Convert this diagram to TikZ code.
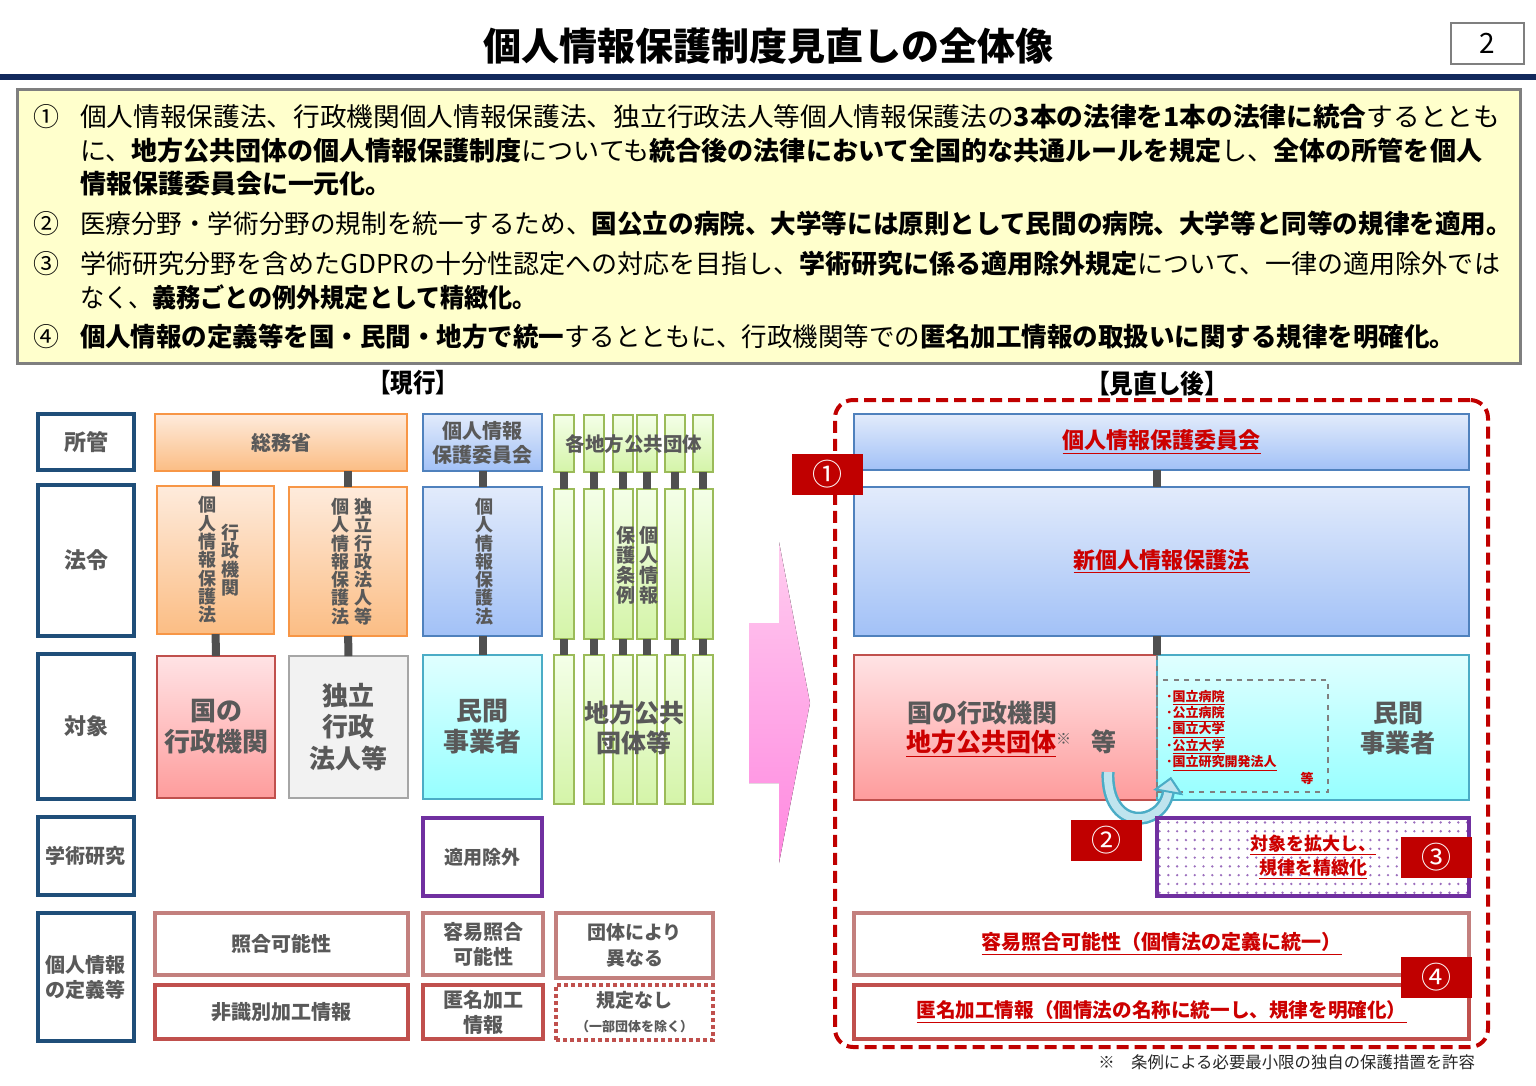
\documentclass[tikz,border=0pt]{standalone}
\usepackage{fontspec}
\setmainfont{Noto Sans CJK JP}
\usepackage{tikz}
\usetikzlibrary{arrows}
\usetikzlibrary{arrows.meta}
\usetikzlibrary{calc}
\usetikzlibrary{positioning}
\usetikzlibrary{patterns.meta}
\tikzset{>=stealth}

\definecolor{rulenavy}{HTML}{12295C}
\definecolor{labelblue}{HTML}{1F4E79}
\definecolor{txtgray}{HTML}{595959}
\definecolor{connc}{HTML}{505050}
\definecolor{memofill}{HTML}{FFFFCC}
\definecolor{memoline}{HTML}{7F7F7F}
\definecolor{orgline}{HTML}{F79646}
\definecolor{orgtop}{HTML}{FEEBDC}
\definecolor{orgbot}{HTML}{FBBD84}
\definecolor{blueline}{HTML}{4F81BD}
\definecolor{bluetop}{HTML}{E2EBFB}
\definecolor{bluebot}{HTML}{A2C1F7}
\definecolor{pinkline}{HTML}{C0504D}
\definecolor{pinktop}{HTML}{FFE3E5}
\definecolor{pinkbot}{HTML}{FE9C9C}
\definecolor{cyanline}{HTML}{4BACC6}
\definecolor{cyantop}{HTML}{E0FFFF}
\definecolor{cyanbot}{HTML}{96FFFF}
\definecolor{grayline}{HTML}{A6A6A6}
\definecolor{grayfill}{HTML}{F2F2F2}
\definecolor{grnline}{HTML}{9BBB59}
\definecolor{grntop}{HTML}{F4FFE8}
\definecolor{grnbot}{HTML}{D4F4A8}
\definecolor{defline}{HTML}{C3807E}
\definecolor{acadline}{HTML}{7030A0}
\definecolor{badge}{HTML}{C00000}
\definecolor{redtxt}{HTML}{CC0000}
\definecolor{arrtop}{HTML}{FFCCEF}
\definecolor{arrbot}{HTML}{FF88E0}
\definecolor{arrfill}{HTML}{BFE4EE}

\newlength{\pxu}
\setlength{\pxu}{0.02cm}
\newcommand{\fpx}[1]{\fontsize{#1\pxu}{1.2\dimexpr#1\pxu\relax}\selectfont}
\newcommand{\fpxs}[2]{\fontsize{#1\pxu}{#2\pxu}\selectfont}
\newcommand{\fitw}[2]{\resizebox{#1\pxu}{\height}{#2}}

\begin{document}
\begin{tikzpicture}[
        x=0.02cm, y=-0.02cm,
        every node/.style={inner sep=0pt, outer sep=0pt, anchor=north west, align=center, text=txtgray, font=\bfseries\fpx{20}},
        box/.style 2 args={rectangle, minimum width=#1*\pxu, minimum height=#2*\pxu},
        memotext/.style={anchor=west, text=black, font=\fpx{26}},
        memonum/.style={anchor=center, text=black, font=\fpx{26}},
        header/.style={anchor=center, text=black, font=\bfseries\fpx{26}},
        rowlab/.style={draw=labelblue, line width=4\pxu, fill=white},
        orgbox/.style={draw=orgline, line width=2.5\pxu, top color=orgtop, bottom color=orgbot},
        bluebox/.style={draw=blueline, line width=2.5\pxu, top color=bluetop, bottom color=bluebot},
        pinkbox/.style={draw=pinkline, line width=2.5\pxu, top color=pinktop, bottom color=pinkbot},
        cyanbox/.style={draw=cyanline, line width=2.5\pxu, top color=cyantop, bottom color=cyanbot},
        graybox/.style={draw=grayline, line width=2.5\pxu, fill=grayfill},
        grnbar/.style={draw=grnline, line width=2.5\pxu, top color=grntop, bottom color=grnbot},
        acadbox/.style={draw=acadline, line width=4\pxu, fill=white},
        defA/.style={draw=defline, line width=4\pxu, fill=white},
        defB/.style={draw=pinkline, line width=4\pxu, fill=white},
        vcol/.style={anchor=center, font=\bfseries\fpxs{18}{18.3}},
        conn/.style={draw=connc, line width=8\pxu},
        badgebox/.style={box={71}{41}, fill=badge, text=white, font=\fpx{30}},
        bendout/.style={draw=cyanline, line width=13\pxu, -{Triangle[length=9pt, width=17pt, line width=1.1pt, fill=arrfill, color=cyanline]}},
        bendin/.style={draw=arrfill, line width=8\pxu, -{Triangle[length=9pt, width=17pt, line width=1.1pt, fill=arrfill, color=cyanline]}}
    ]
    \useasboundingbox (0,0) rectangle (1536,1086);

    \node[anchor=center, text=black, font=\bfseries\fpx{38}] (title) at (768,46) {個人情報保護制度見直しの全体像};
    \node[draw=memoline, line width=2\pxu, box={73}{41}, text=black, font=\fpx{28}] (pageno) at (1451,23) {2};
    \draw[rulenavy, line width=6\pxu] (0,77) -- (1536,77);

    \node[draw=memoline, line width=3\pxu, fill=memofill, box={1503}{274}] (memo) at (17,89) {};
    \node[memonum] (n1) at (46,117) {①};
    \node[memotext] (l1) at (80,117) {\fitw{1420}{個人情報保護法、行政機関個人情報保護法、独立行政法人等個人情報保護法の\textbf{3本の法律を1本の法律に統合}するととも}};
    \node[memotext] (l2) at (80,151) {\fitw{1402}{に、\textbf{地方公共団体の個人情報保護制度}についても\textbf{統合後の法律において全国的な共通ルールを規定}し、\textbf{全体の所管を個人}}};
    \node[memotext] (l3) at (80,184) {\textbf{情報保護委員会に一元化。}};
    \node[memonum] (n2) at (46,224) {②};
    \node[memotext] (l4) at (80,224) {\fitw{1432}{医療分野・学術分野の規制を統一するため、\textbf{国公立の病院、大学等には原則として民間の病院、大学等と同等の規律を適用。}}};
    \node[memonum] (n3) at (46,264) {③};
    \node[memotext] (l5) at (80,264) {\fitw{1420}{学術研究分野を含めたGDPRの十分性認定への対応を目指し、\textbf{学術研究に係る適用除外規定}について、一律の適用除外では}};
    \node[memotext] (l6) at (80,297) {\fitw{457}{なく、\textbf{義務ごとの例外規定として精緻化。}}};
    \node[memonum] (n4) at (46,337) {④};
    \node[memotext] (l7) at (80,337) {\fitw{1375}{\textbf{個人情報の定義等を国・民間・地方で統一}するとともに、行政機関等での\textbf{匿名加工情報の取扱いに関する規律を明確化。}}};

    \node[header] (hNow) at (413,383) {\fitw{90}{【現行】}};
    \node[header] (hNew) at (1157,384) {\fitw{142}{【見直し後】}};

    \node[rowlab, box={96}{56}, font=\bfseries\fpx{22}] (rShokan) at (38,414) {所管};
    \node[rowlab, box={96}{151}, font=\bfseries\fpx{22}] (rHorei) at (38,485) {法令};
    \node[rowlab, box={96}{145}, font=\bfseries\fpx{22}] (rTaisho) at (38,654) {対象};
    \node[rowlab, box={96}{78}] (rGaku) at (38,817) {学術研究};
    \node[rowlab, box={96}{128}, font=\bfseries\fpxs{20}{25}] (rTeigi) at (38,913) {個人情報\\の定義等};

    \node[orgbox, box={252}{57}] (soumu) at (155,414) {総務省};
    \node[orgbox, box={117}{148}] (lawA) at (157,486) {};
    \node[orgbox, box={118}{149}] (lawB) at (289,487) {};
    \node[vcol] (lawAl) at ($(lawA.center)+(-8,0)$) {個\\人\\情\\報\\保\\護\\法};
    \node[vcol] (lawAr) at ($(lawA.center)+(15,0)$) {行\\政\\機\\関};
    \node[vcol] (lawBl) at ($(lawB.center)+(-8,0)$) {個\\人\\情\\報\\保\\護\\法};
    \node[vcol] (lawBr) at ($(lawB.center)+(15,0)$) {独\\立\\行\\政\\法\\人\\等};
    \node[pinkbox, box={118}{142}, font=\bfseries\fpxs{26}{31}] (govOld) at (157,656) {国の\\行政機関};
    \node[graybox, box={119}{142}, font=\bfseries\fpxs{26}{31.5}] (iaaOld) at (289,656) {独立\\行政\\法人等};

    \path (soumu.south -| lawA.north) edge[conn] (lawA.north);
    \path (soumu.south -| lawB.north) edge[conn] (lawB.north);
    \path (lawA) edge[conn] (govOld);
    \path (lawB) edge[conn] (iaaOld);

    \node[bluebox, box={119}{57}, font=\bfseries\fpxs{20}{24}] (ppcOld) at (423,414) {個人情報\\保護委員会};
    \node[bluebox, box={119}{149}] (lawC) at (423,487) {};
    \node[vcol] (lawCv) at ($(lawC.center)+(2,0)$) {個\\人\\情\\報\\保\\護\\法};
    \node[cyanbox, box={119}{144}, font=\bfseries\fpxs{26}{31}] (privOld) at (423,655) {民間\\事業者};
    \node[acadbox, box={119}{78}, font=\bfseries\fpx{19}] (jogai) at (423,818) {適用除外};
    \path (ppcOld) edge[conn] (lawC);
    \path (lawC) edge[conn] (privOld);

    \foreach \i/\x in {1/554,2/584,3/613,4/637,5/665,6/693} {
        \node[grnbar, box={20}{57}] (ga\i) at (\x,415) {};
        \node[grnbar, box={20}{150}] (gb\i) at (\x,489) {};
        \node[grnbar, box={20}{149}] (gc\i) at (\x,655) {};
        \path (ga\i) edge[conn] (gb\i);
        \path (gb\i) edge[conn] (gc\i);
    }
    \node[anchor=center, font=\bfseries\fpx{19.5}] (kakuchiho) at (634,444) {各地方公共団体};
    \node[vcol, font=\bfseries\fpxs{19}{20}] (joreiR) at (649,565) {個\\人\\情\\報};
    \node[vcol, font=\bfseries\fpxs{19}{20}] (joreiL) at (626,565) {保\\護\\条\\例};
    \node[anchor=center, font=\bfseries\fpxs{25}{30}] (chiho) at (634,728) {地方公共\\団体等};

    \node[defA, box={253}{62}] (shogo) at (155,913) {照合可能性};
    \node[defB, box={253}{54}] (hishiki) at (155,985) {非識別加工情報};
    \node[defA, box={120}{62}, font=\bfseries\fpxs{20}{25}] (yoiOld) at (423,913) {容易照合\\可能性};
    \node[defB, box={120}{54}, font=\bfseries\fpxs{20}{25}] (tokuOld) at (423,985) {匿名加工\\情報};
    \node[defA, box={157}{65}, font=\bfseries\fpxs{19}{26}] (dantai) at (556,913) {団体により\\異なる};
    \node[draw=pinkline, line width=4\pxu, dash pattern=on 4\pxu off 3\pxu, fill=white, box={157}{55}, font=\bfseries\fpxs{19}{24}] (nashi) at (556,985) {規定なし\\{\fpx{13}（一部団体を除く）}};

    \fill[top color=arrtop, bottom color=arrbot] (749,623) -- (779,623) -- (779,542) -- (810,703) -- (779,863) -- (779,783) -- (749,783) -- cycle;

    \node[draw=badge, line width=4\pxu, dash pattern=on 12\pxu off 6\pxu, rounded corners=18\pxu, box={653}{647}] (newFrame) at (835,400) {};

    \coordinate (split) at (1157,655);
    \node[bluebox, box={615}{56}, text=redtxt, font=\bfseries\fpx{22}] (ppcNew) at (854,414) {\underline{個人情報保護委員会}};
    \node[bluebox, box={615}{149}, text=redtxt, font=\bfseries\fpx{22}] (lawNew) at (854,487) {\underline{新個人情報保護法}};
    \node[pinkbox, box={303}{145}] (govNew) at (854,655) {};
    \node[cyanbox, box={312}{145}] (privNew) at (1157,655) {};
    \draw[gray, line width=1.5\pxu, dashed] (privNew.north west) -- (privNew.south west);
    \path (ppcNew.south -| split) edge[conn] (lawNew.north -| split);
    \path (lawNew.south -| split) edge[conn] (split);

    \node[anchor=center, font=\bfseries\fpx{25}] (govTxt) at (982,713) {国の行政機関};
    \node[anchor=west, font=\bfseries\fpx{25}] (localTxt) at (906,744) {\textcolor{redtxt}{\underline{地方公共団体}}\raisebox{7\pxu}{\mdseries\fpx{15}※}\hspace{20\pxu}等};
    \node[draw=gray, line width=1.5\pxu, dashed, box={171}{112}] (pubList) at (1157,680) {};
    \node[text=redtxt, align=left, font=\bfseries\fpxs{13}{16.3}] (pubItems) at (1166,690) {･\underline{国立病院}\\･\underline{公立病院}\\･\underline{国立大学}\\･\underline{公立大学}\\･\underline{国立研究開発法人}};
    \node[anchor=center, text=redtxt, font=\bfseries\fpx{13}] (pubEtc) at (1307,778) {等};
    \node[anchor=center, font=\bfseries\fpxs{25}{30}] (privTxt) at (1398,728) {民間\\事業者};

    \coordinate (bendS) at (1108,772);
    \coordinate (bendE) at (1171,777);
    \draw[bendout] (bendS) .. controls (1106,832) and (1162,828) .. (bendE);
    \draw[bendin] (bendS) .. controls (1106,832) and (1162,828) .. (bendE);

    \node[draw=acadline, line width=4\pxu, pattern={Dots[distance=5pt, radius=0.75pt]}, pattern color=acadline!70, box={312}{78}, text=redtxt, font=\bfseries\fpxs{18}{24}] (expand) at (1157,818) {\underline{対象を拡大し、}\\\underline{規律を精緻化}};

    \node[defA, box={615}{62}, text=redtxt, font=\bfseries\fpx{20}] (yoiNew) at (854,913) {\underline{容易照合可能性（個情法の定義に統一）}};
    \node[defB, box={615}{54}, text=redtxt, font=\bfseries\fpx{19.6}] (tokuNew) at (854,985) {\underline{匿名加工情報（個情法の名称に統一し、規律を明確化）}};

    \node[badgebox] (b1) at (792,454) {①};
    \node[badgebox] (b2) at (1071,820) {②};
    \node[badgebox] (b3) at (1401,837) {③};
    \node[badgebox] (b4) at (1401,957) {④};

    \node[anchor=east, text=black!85, font=\fpx{16.4}] (note) at (1475,1062) {※　条例による必要最小限の独自の保護措置を許容};
\end{tikzpicture}
\end{document}
